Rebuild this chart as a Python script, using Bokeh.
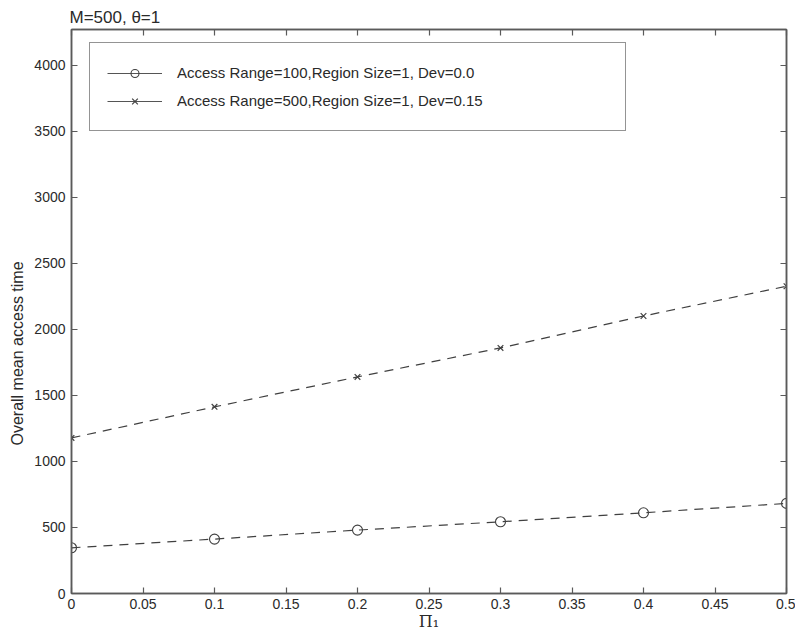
from bokeh.plotting import figure
from bokeh.models import (Range1d, LinearAxis, FixedTicker, Legend, Title,
                          LegendItem, CustomJSTickFormatter)
from bokeh.embed import file_html
from bokeh.resources import INLINE

# ---------------- data ----------------
pi1 = [0.0, 0.1, 0.2, 0.3, 0.4, 0.5]
time_range100 = [346, 412, 480, 543, 611, 682]
time_range500 = [1178, 1413, 1640, 1859, 2101, 2326]

series_labels = ["Access Range=100,Region Size=1, Dev=0.0",
                 "Access Range=500,Region Size=1, Dev=0.15"]

x_ticks = [0.0, 0.05, 0.1, 0.15, 0.2, 0.25, 0.3, 0.35, 0.4, 0.45, 0.5]
x_tick_labels = ["0", "0.05", "0.1", "0.15", "0.2", "0.25", "0.3", "0.35",
                 "0.4", "0.45", "0.5"]
y_ticks = [0, 500, 1000, 1500, 2000, 2500, 3000, 3500, 4000]
y_tick_labels = ["0", "500", "1000", "1500", "2000", "2500", "3000", "3500",
                 "4000"]

title_text = "M=500, θ=1"
x_label = "Π₁"
y_label = "Overall mean access time"

x_lim = (0.0, 0.5)
y_lim = (0, 4270)

# ---------------- style ----------------
INK = "#404040"
AXIS = "#5a5a5a"
TXT = "#2a2a2a"
FONT = "Liberation Sans"
W, H = 795, 634

p = figure(width=W, height=H,
           x_range=Range1d(*x_lim), y_range=Range1d(*y_lim),
           output_backend="svg", toolbar_location=None,
           min_border_left=70, min_border_right=9,
           min_border_top=29, min_border_bottom=41,
           background_fill_color="white", border_fill_color="white")

p.grid.visible = False
p.outline_line_color = AXIS
p.outline_line_width = 1.5

# main axes
for ax in (p.xaxis[0], p.yaxis[0]):
    ax.major_tick_in = 6
    ax.major_tick_out = 0
    ax.minor_tick_line_color = None
    ax.axis_line_color = AXIS
    ax.axis_line_width = 1.5
    ax.major_tick_line_color = AXIS
    ax.major_tick_line_width = 1.2
    ax.major_label_text_font = FONT
    ax.major_label_text_font_size = "14px"
    ax.major_label_text_color = TXT

xa = p.xaxis[0]
xa.ticker = FixedTicker(ticks=x_ticks)
xa.major_label_overrides = {t: s for t, s in zip(x_ticks, x_tick_labels)}
xa.major_label_standoff = 5
xa.axis_label = x_label
xa.axis_label_standoff = 0
xa.axis_label_text_font = "DejaVu Serif"
xa.axis_label_text_font_size = "16px"
xa.axis_label_text_font_style = "normal"
xa.axis_label_text_color = TXT

ya = p.yaxis[0]
ya.ticker = FixedTicker(ticks=y_ticks)
ya.major_label_overrides = {t: s for t, s in zip(y_ticks, y_tick_labels)}
ya.major_label_standoff = 6

# mirrored (label-less) axes on top and right
def mirror(ticks):
    return LinearAxis(ticker=FixedTicker(ticks=ticks),
                      formatter=CustomJSTickFormatter(code="return ''"),
                      major_tick_in=6, major_tick_out=0,
                      major_label_standoff=0,
                      major_label_text_font_size="0px",
                      major_label_text_color=None,
                      minor_tick_line_color=None,
                      axis_line_color=AXIS, axis_line_width=1.5,
                      major_tick_line_color=AXIS, major_tick_line_width=1.2)

p.add_layout(mirror(x_ticks), "above")
p.add_layout(mirror(y_ticks), "right")

# title
p.title.text = title_text
p.title.text_font = FONT
p.title.text_font_size = "17px"
p.title.text_font_style = "normal"
p.title.text_color = TXT
p.title.standoff = 5
p.title.offset = -2
p.title.align = "left"

# y-axis label as a side title (placed like the original, below centre)
p.add_layout(Title(text=y_label, align="left", offset=148, standoff=12,
                   text_font=FONT, text_font_size="16px",
                   text_font_style="normal", text_color=TXT), "left")

# data
l1 = p.line(pi1, time_range100, line_color=INK, line_dash="9 7", line_width=1.2)
s1 = p.scatter(pi1, time_range100, marker="circle", size=10,
               fill_color=None, line_color=INK, line_width=1.1)
l2 = p.line(pi1, time_range500, line_color=INK, line_dash="9 7", line_width=1.2)
s2 = p.scatter(pi1, time_range500, marker="x", size=8,
               line_color=INK, line_width=1.2)

# hidden solid-line copies of the series, used only for the legend key
k1 = p.line(pi1, time_range100, line_color="#555555", line_width=1.2, visible=False)
k2 = p.line(pi1, time_range500, line_color="#555555", line_width=1.2, visible=False)

legend = Legend(items=[LegendItem(label=series_labels[0], renderers=[k1, s1]),
                       LegendItem(label=series_labels[1], renderers=[k2, s2])],
                location=(18, 462), orientation="vertical",
                padding=17, spacing=3, label_height=25,
                glyph_width=55, glyph_height=20, label_standoff=15,
                label_width=431, margin=0,
                label_text_font=FONT, label_text_font_size="15px",
                label_text_color=TXT,
                border_line_color="#2a2a2a", border_line_width=1.5,
                background_fill_color="white", background_fill_alpha=1)
p.add_layout(legend)

open("out.html", "w").write(file_html(p, INLINE))
